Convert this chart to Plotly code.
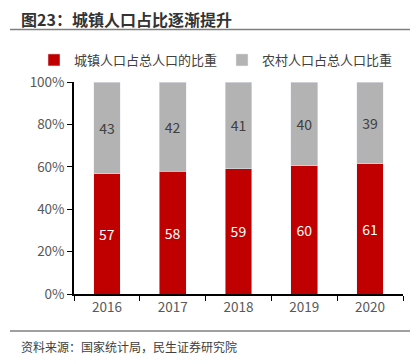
import plotly.graph_objects as go

years = ["2016", "2017", "2018", "2019", "2020"]
urban = [56.7, 57.9, 59.2, 60.4, 61.4]
rural = [43.3, 42.1, 40.8, 39.6, 38.6]
urban_name = "城镇人口占总人口的比重"
rural_name = "农村人口占总人口比重"
title_text = "图23：城镇人口占比逐渐提升"
source_text = "资料来源：国家统计局，民生证券研究院"

FONT = "Noto Sans CJK SC"
OFF = 8  # page body margin
W, H = 418 - OFF, 364 - OFF
L, R, T, B = 74 - OFF, 403 - OFF, 82 - OFF, 294 - OFF

def px(x):
    return (x - OFF - L) / (R - L)

def py(y):
    return (B - (y - OFF)) / (B - T)

fig = go.Figure()
fig.add_trace(go.Bar(
    x=years, y=urban, name=urban_name, marker_color="#C00000",
    text=urban, texttemplate="%{y:.0f}", textposition="inside",
    insidetextanchor="middle", textfont=dict(color="white", size=14, family=FONT),
    legend="legend",
))
fig.add_trace(go.Bar(
    x=years, y=rural, name=rural_name, marker_color="#B3B3B3",
    text=rural, texttemplate="%{y:.0f}", textposition="inside",
    insidetextanchor="middle", textfont=dict(color="#404040", size=14, family=FONT),
    legend="legend2",
))

leg_common = dict(orientation="h", xanchor="left", yanchor="middle",
                  font=dict(size=13, color="#404040", family=FONT),
                  itemwidth=30, bgcolor="rgba(0,0,0,0)", borderwidth=0)

fig.update_layout(
    width=W, height=H,
    margin=dict(l=L, r=W - R, t=T, b=H - B, autoexpand=False),
    barmode="stack", bargap=0.594,
    plot_bgcolor="white", paper_bgcolor="white",
    font=dict(family=FONT, size=13, color="#595959"),
    showlegend=True,
    legend=dict(x=px(34), y=py(60), **leg_common),
    legend2=dict(x=px(222), y=py(60), **leg_common),
    uniformtext=dict(mode="show", minsize=12),
)
fig.update_xaxes(
    automargin=False,
    showline=True, linecolor="#000000", linewidth=1.5,
    ticks="outside", tickson="boundaries", ticklen=5, tickcolor="#000000",
    tickfont=dict(size=13.5, color="#595959"), showgrid=False,
)
fig.update_yaxes(
    automargin=False,
    range=[0, 100], dtick=20, ticksuffix="%",
    showline=True, linecolor="#000000", linewidth=1.5,
    ticks="outside", ticklen=5, tickcolor="#000000",
    tickfont=dict(size=13.5, color="#595959"), showgrid=False,
)

fig.add_annotation(
    x=px(19), y=py(19), xref="paper", yref="paper", xanchor="left", yanchor="middle",
    text="<b>" + title_text + "</b>", showarrow=False,
    font=dict(size=16, color="#333333", family=FONT),
)
fig.add_shape(type="line", xref="paper", yref="paper",
              x0=px(10), x1=px(418), y0=py(29.5), y1=py(29.5),
              line=dict(color="#7F7F7F", width=1.5))
fig.add_shape(type="line", xref="paper", yref="paper",
              x0=px(10), x1=px(418), y0=py(331), y1=py(331),
              line=dict(color="#7F7F7F", width=1.5))
fig.add_annotation(
    x=px(19), y=py(346), xref="paper", yref="paper", xanchor="left", yanchor="middle",
    text=source_text, showarrow=False,
    font=dict(size=12, color="#404040", family=FONT),
)

fig.write_html("out.html")
